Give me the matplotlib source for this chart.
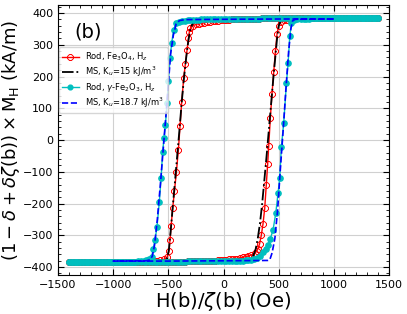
import numpy as np
import matplotlib
matplotlib.use('Agg')
import matplotlib.pyplot as plt
from matplotlib.ticker import MultipleLocator

# Rod, Fe3O4 (measured): descending branch
fe3o4_h_down = [1400, 1375, 1350, 1325, 1300, 1275, 1250, 1225, 1200, 1175, 1150, 1125, 1100, 1075,
                1050, 1025, 1000, 975, 950, 925, 900, 875, 850, 825, 800,
                775, 750, 725, 700, 675, 650, 625, 600, 575, 550, 525, 500, 475, 450, 425, 400, 375, 350,
                325, 300, 275, 250, 225, 200, 175,
                150, 125, 100, 75, 50, 25, 0,
                -25, -50, -75, -100, -125, -150, -175, -200, -225, -250,
                -280, -300, -310, -318, -330, -345, -361, -379, -394, -409, -427, -445, -461, -475,
                -485, -495, -510,
                -540, -575, -600, -625, -650,
                -675, -700, -725, -750, -775, -800, -825, -850, -875, -900, -925, -950, -975, -1000,
                -1025, -1050, -1075, -1100, -1125, -1150, -1175, -1200, -1225, -1250, -1275, -1300,
                -1325, -1350, -1375, -1400]
fe3o4_m_down = [384, 384, 384, 384, 384, 384, 384, 384, 384, 384, 384, 384, 384, 384,
                384, 384, 384, 384, 384, 384, 384, 384, 384, 384, 384,
                383, 383, 383, 383, 383, 383, 383, 383, 383, 383, 383, 383, 383, 383, 383, 383, 383, 383,
                382, 382, 382, 382, 382, 382, 382,
                381, 381, 380, 380, 379, 379, 378,
                377, 376, 375, 374, 373, 371, 369, 367, 366, 364,
                359, 352, 340, 320, 285, 240, 195, 120, 45, -30, -100, -160, -215, -270,
                -315, -350, -368,
                -376, -378, -380, -381, -382,
                -383, -383, -383, -383, -383, -383, -383, -383, -383, -383, -383, -383, -383, -383,
                -384, -384, -384, -384, -384, -384, -384, -384, -384, -384, -384, -384,
                -384, -384, -384, -384]
# Rod, Fe3O4 (measured): ascending branch
fe3o4_h_up = [-1400, -1375, -1350, -1325, -1300, -1275, -1250, -1225, -1200, -1175, -1150, -1125,
              -1100, -1075, -1050, -1025, -1000, -975, -950, -925, -900, -875, -850, -825, -800,
              -775, -750, -725, -700, -675, -650, -625, -600, -575, -550, -525, -500, -475, -450,
              -425, -400, -375, -350,
              -325, -300, -275, -250, -225, -200, -175,
              -150, -125, -100, -75, -50, -25, 0,
              25, 50, 75, 100, 125, 150, 175, 200, 225, 250,
              282, 300, 312, 327, 342, 358, 373, 388, 400, 409, 424, 439, 455, 470, 485, 500, 520,
              550, 575, 600, 625, 650,
              675, 700, 725, 750, 775, 800, 825, 850, 875, 900, 925, 950, 975, 1000,
              1025, 1050, 1075, 1100, 1125, 1150, 1175, 1200, 1225, 1250, 1275, 1300, 1325, 1350,
              1375, 1400]
fe3o4_m_up = [-384, -384, -384, -384, -384, -384, -384, -384, -384, -384, -384, -384,
              -384, -384, -384, -384, -384, -384, -384, -384, -384, -384, -384, -384, -384,
              -383, -383, -383, -383, -383, -383, -383, -383, -383, -383, -383, -383, -383, -383,
              -383, -383, -383, -383,
              -382, -382, -382, -382, -382, -382, -382,
              -381, -381, -380, -380, -379, -379, -378,
              -377, -376, -375, -374, -373, -371, -369, -367, -365, -362,
              -356, -350, -342, -326, -300, -263, -215, -140, -75, -20, 70, 145, 215, 280, 335, 360, 372,
              377, 379, 380, 381, 382,
              383, 383, 383, 383, 383, 383, 383, 383, 383, 383, 383, 383, 383, 383,
              384, 384, 384, 384, 384, 384, 384, 384, 384, 384, 384, 384, 384, 384,
              384, 384]

# MS, Ku = 15 kJ/m3
ms15_h_down = [1000, 500, 0, -250, -282, -300, -320, -340, -360, -380, -400, -420, -440, -460,
               -480, -495, -510, -540, -600, -1000]
ms15_m_down = [381, 380, 379, 376, 365, 350, 310, 255, 190, 115, 30, -50, -130, -210,
               -290, -345, -372, -379, -380, -381]
ms15_h_up = [-1000, -500, 0, 250, 270, 290, 310, 330, 350, 370, 390, 410, 430, 450, 470, 485,
             500, 520, 600, 1000]
ms15_m_up = [-381, -380, -379, -374, -363, -345, -310, -262, -200, -125, -50, 30, 110, 190,
             265, 320, 360, 377, 380, 381]

# Rod, gamma-Fe2O3 (measured): descending branch
gfe_h_down = [1400, 1375, 1350, 1325, 1300, 1275, 1250, 1225, 1200, 1175, 1150, 1125, 1100, 1075,
              1050, 1025, 1000, 975, 950, 925, 900, 875, 850, 825, 800,
              775, 750, 725, 700, 675, 650, 625, 600, 575, 550, 525, 500, 475, 450, 425, 400, 375, 350,
              325, 300, 275, 250, 225, 200, 175, 150, 125, 100, 75, 50, 25, 0,
              -25, -50, -75, -100, -125, -150, -175, -200, -225, -250, -275, -300, -325, -350,
              -375, -400, -430, -452, -470, -485, -500, -512, -527, -540, -552, -566, -582, -603,
              -621, -636, -652, -675, -700, -725, -750, -775,
              -800, -825, -850, -875, -900, -925, -950, -975, -1000,
              -1025, -1050, -1075, -1100, -1125, -1150, -1175, -1200, -1225, -1250, -1275, -1300,
              -1325, -1350, -1375, -1400]
gfe_m_down = [384, 384, 384, 384, 384, 384, 384, 384, 384, 384, 384, 384, 384, 384,
              384, 384, 384, 384, 384, 384, 384, 384, 384, 384, 384,
              383, 383, 383, 383, 383, 383, 383, 383, 383, 383, 383, 383, 383, 383, 383, 383, 383, 383,
              382, 382, 382, 382, 382, 382, 382, 382, 382, 382, 382, 382, 382, 382,
              382, 381, 381, 381, 381, 380, 380, 380, 379, 379, 378, 378, 377, 376,
              375, 373, 368, 347, 305, 258, 185, 116, 47, 5, -37, -121, -195, -273,
              -315, -342, -368, -376, -379, -380, -381, -382,
              -383, -383, -383, -383, -383, -383, -383, -383, -383,
              -384, -384, -384, -384, -384, -384, -384, -384, -384, -384, -384, -384,
              -384, -384, -384, -384]
# Rod, gamma-Fe2O3 (measured): ascending branch
gfe_h_up = [-1400, -1375, -1350, -1325, -1300, -1275, -1250, -1225, -1200, -1175, -1150, -1125,
            -1100, -1075, -1050, -1025, -1000, -975, -950, -925, -900, -875, -850, -825, -800,
            -775, -750, -725, -700, -675, -650, -625, -600, -575, -550, -525, -500, -475, -450,
            -425, -400, -375, -350,
            -325, -300, -275, -250, -225, -200, -175, -150, -125, -100, -75, -50, -25, 0,
            25, 50, 75, 100, 125, 150, 175, 200, 225, 250, 275, 300,
            330, 358, 382, 403, 424, 448, 473, 494, 509, 524, 545, 570, 585, 600, 615,
            640, 670, 700, 725, 750, 775,
            800, 825, 850, 875, 900, 925, 950, 975, 1000,
            1025, 1050, 1075, 1100, 1125, 1150, 1175, 1200, 1225, 1250, 1275, 1300, 1325, 1350,
            1375, 1400]
gfe_m_up = [-384, -384, -384, -384, -384, -384, -384, -384, -384, -384, -384, -384,
            -384, -384, -384, -384, -384, -384, -384, -384, -384, -384, -384, -384, -384,
            -383, -383, -383, -383, -383, -383, -383, -383, -383, -383, -383, -383, -383, -383,
            -383, -383, -383, -383,
            -382, -382, -382, -382, -382, -382, -382, -382, -382, -382, -382, -382, -382, -382,
            -382, -382, -381, -381, -381, -380, -380, -379, -378, -377, -375, -372,
            -366, -352, -342, -331, -310, -284, -231, -168, -121, -21, 53, 179, 242, 326, 368,
            378, 380, 381, 381, 382, 382,
            383, 383, 383, 383, 383, 383, 383, 383, 383,
            384, 384, 384, 384, 384, 384, 384, 384, 384, 384, 384, 384, 384, 384,
            384, 384]

# MS, Ku = 18.7 kJ/m3
ms187_h_down = [1000, 500, 0, -350, -400, -430, -455, -480, -510, -540, -570, -600, -625, -645,
                -665, -700, -1000]
ms187_m_down = [381, 381, 380, 379, 376, 365, 330, 270, 130, 0, -130, -250, -330, -365,
                -377, -380, -381]
ms187_h_up = [-1000, -500, 0, 400, 420, 440, 465, 490, 515, 540, 565, 590, 610, 625, 650, 1000]
ms187_m_up = [-381, -381, -380, -379, -376, -355, -310, -220, -90, 30, 160, 280, 350, 375, 380, 381]

labels = [r'Rod, Fe$_3$O$_4$, H$_z$', r'MS, K$_u$=15 kJ/m$^3$',
          r'Rod, $\gamma$-Fe$_2$O$_3$, H$_z$', r'MS, K$_u$=18.7 kJ/m$^3$']

fig = plt.figure(figsize=(4.07, 3.14), dpi=100)
ax = fig.add_axes([0.1425, 0.124, 0.8135, 0.86])

ax.plot(fe3o4_h_down + fe3o4_h_up, fe3o4_m_down + fe3o4_m_up, '-', color='r', lw=1,
        marker='8', ms=4.5, mfc='none', mec='r', mew=0.7, label=labels[0], zorder=2)
ax.plot(ms15_h_down + ms15_h_up, ms15_m_down + ms15_m_up, '-.', color='k', lw=1.3,
        label=labels[1], zorder=3)
ax.plot(gfe_h_down + gfe_h_up, gfe_m_down + gfe_m_up, '-', color='c', lw=1,
        marker='o', ms=3.8, mfc='c', mec='c', label=labels[2], zorder=4)
ax.plot(ms187_h_down + ms187_h_up, ms187_m_down + ms187_m_up, '--', color='b', lw=1.2,
        label=labels[3], zorder=5)

ax.set_xlim(-1500, 1500)
ax.set_ylim(-425, 425)
ax.xaxis.set_major_locator(MultipleLocator(500))
ax.xaxis.set_minor_locator(MultipleLocator(100))
ax.yaxis.set_major_locator(MultipleLocator(100))
ax.yaxis.set_minor_locator(MultipleLocator(20))
ax.tick_params(which='both', direction='in', top=True, right=True, labelsize=8)
ax.tick_params(which='major', length=4)
ax.tick_params(which='minor', length=2)
ax.grid(True, color='#d0d0d0', lw=0.8, zorder=0)

ax.set_xlabel(r'H(b)/$\zeta$(b) (Oe)', fontsize=14, labelpad=0)
ax.set_ylabel(r'$(1-\delta+\delta\zeta(\mathrm{b}))\times$M$_\mathrm{H}$ (kA/m)', fontsize=13,
              labelpad=0.5)
ax.text(0.05, 0.9, '(b)', transform=ax.transAxes, fontsize=14, va='center')

ax.legend(loc='upper left', bbox_to_anchor=(0.0, 0.847), borderaxespad=0.1, fontsize=6,
          handlelength=2.0, borderpad=0.4, labelspacing=0.2, handletextpad=0.8, markerscale=0.9)

plt.savefig('out.png', dpi=100)
